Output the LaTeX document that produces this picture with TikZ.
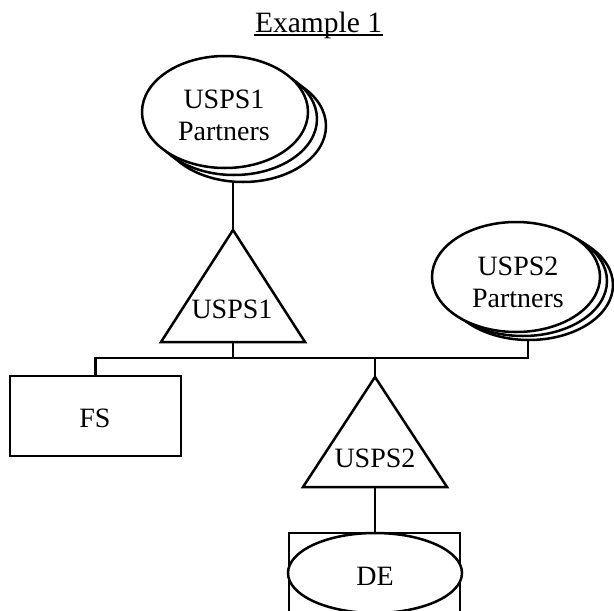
\documentclass[tikz,border=0pt]{standalone}
\usepackage{fontspec}
\setmainfont{Liberation Serif}
\usetikzlibrary{shapes.geometric,backgrounds}
\tikzset{stroke/.style={line width=2.5pt}}
\begin{document}
\begin{tikzpicture}[x=1pt,y=-1pt,stroke,
  lbl/.style={font=\fontsize{28}{32}\selectfont,inner sep=0pt,align=center},
  oval/.style={ellipse,draw,fill=white,inner sep=0pt,stroke},
  partner1/.style={oval,minimum width=166pt,minimum height=112pt},
  partner2/.style={oval,minimum width=168pt,minimum height=110pt},
  boxed/.style={draw,fill=white,inner sep=0pt,stroke}]
\useasboundingbox (0,0) rectangle (614,611);
\clip (0,0) rectangle (614,611);

% title
\node[lbl,font=\fontsize{29.5}{32}\selectfont,anchor=base] (title) at (318.5,32) {Example 1};
\draw[stroke] ([yshift=-3pt]title.base west) -- ([yshift=-3pt]title.base east);

% USPS1 partner stack
\node[partner1] (p1c) at (243,126) {};
\node[partner1] (p1b) at (234,119) {};
\node[partner1] (p1) at (225,112) {};
\node[lbl] (p1t) at (224,115) {USPS1\\Partners};

% USPS2 partner stack
\node[partner2] (p2c) at (529,285) {};
\node[partner2] (p2b) at (523,281) {};
\node[partner2] (p2) at (516,277) {};
\node[lbl] (p2t) at (518,282) {USPS2\\Partners};

% USPS1 triangle
\coordinate (t1top) at (233,230);
\coordinate (t1base) at (233,342);
\draw[stroke,fill=white] (161,342) -- (t1top) -- (305,342) -- cycle;
\node[lbl,anchor=base] (t1) at (232,318) {USPS1};

% FS box
\node[boxed,minimum width=171pt,minimum height=80pt] (fs) at (95.5,416) {};
\node[lbl,anchor=base] (fst) at (95,427) {FS};

% USPS2 triangle
\coordinate (t2top) at (375,377);
\coordinate (t2base) at (375,487);
\draw[stroke,fill=white] (303,487) -- (t2top) -- (447,487) -- cycle;
\node[lbl,anchor=base] (t2) at (375,467) {USPS2};

% DE store: open box with ellipse
\coordinate (detop) at (375,533);
\draw[stroke] (289,640) -- (289,533) -- (460,533) -- (460,640);
\node[oval,minimum width=174pt,minimum height=80pt] (de) at (375,573) {};
\node[lbl,anchor=base] (det) at (375,585) {DE};

% connectors behind the shapes
\coordinate (busR) at (528,358);
\begin{scope}[on background layer,stroke]
  \draw[stroke] (t1top) -- (t1top |- p1c.center);
  \draw[stroke] (t1base) -- (t1base |- busR);
  \draw[stroke] (fs.north) |- (busR) -- (busR |- p2c.center);
  \draw[stroke] (t2top) -- (t2top |- busR);
  \draw[stroke] (t2base) -- (detop);
\end{scope}
\end{tikzpicture}
\end{document}
